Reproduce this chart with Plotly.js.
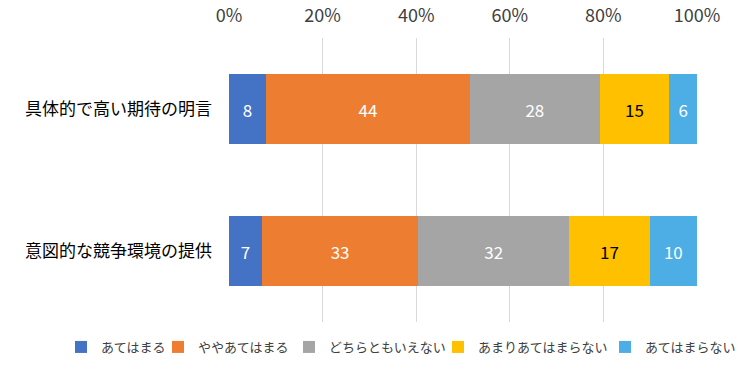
<!DOCTYPE html>
<html><head><meta charset="utf-8">
<script src="https://cdn.plot.ly/plotly-3.0.1.min.js"></script>
<style>body{margin:0}#c{width:750px;height:384px}</style>
</head><body><div id="c"></div>
<script>
const categories = ["具体的で高い期待の明言", "意図的な競争環境の提供"];
const seriesNames = ["あてはまる", "ややあてはまる", "どちらともいえない", "あまりあてはまらない", "あてはまらない"];
const s1 = [8, 7];
const s2 = [44, 33];
const s3 = [28, 32];
const s4 = [15, 17];
const s5 = [6, 10];
const tickVals = [0, 20, 40, 60, 80, 100];
const tickText = ["0%", "20%", "40%", "60%", "80%", "100%"];

const colors = ["#4472C4", "#ED7D31", "#A5A5A5", "#FFC000", "#4DAEE5"];
const textColors = ["#ffffff", "#ffffff", "#ffffff", "#000000", "#ffffff"];
const legendWidths = [52, 86, 104, 122, 91];
const series = [s1, s2, s3, s4, s5];
const font = "Noto Sans CJK JP, Noto Sans, sans-serif";

const traces = series.map((vals, i) => ({
  type: "bar", orientation: "h",
  name: seriesNames[i], y: categories, x: vals,
  text: vals.map(String), texttemplate: "%{text}",
  textposition: "inside", insidetextanchor: "middle",
  textfont: {color: textColors[i], size: 17, family: font},
  marker: {color: colors[i]},
  legendwidth: legendWidths[i],
  hoverinfo: "skip", constraintext: "none"
}));

Plotly.newPlot("c", traces, {
  width: 750, height: 384,
  barmode: "stack", barnorm: "percent", bargap: 0.505,
  margin: {l: 229, r: 53, t: 38, b: 62, autoexpand: false},
  paper_bgcolor: "#ffffff", plot_bgcolor: "#ffffff",
  font: {family: font, color: "#404040", size: 15},
  xaxis: {side: "top", range: [0, 100], tickvals: tickVals, ticktext: tickText,
          showgrid: true, gridcolor: "#d9d9d9", zeroline: false, ticks: "",
          ticklabelstandoff: 11, automargin: false,
          tickfont: {size: 18, color: "#404040"}, fixedrange: true},
  yaxis: {autorange: "reversed", ticks: "", showline: false,
          ticklabelstandoff: 16, automargin: false,
          tickfont: {size: 17, color: "#000000"}, fixedrange: true},
  legend: {orientation: "h", x: -0.359, xanchor: "left", xref: "paper",
           y: -0.088, yanchor: "middle", yref: "paper",
           font: {size: 13, color: "#404040"}, itemwidth: 30,
           traceorder: "normal"},
  showlegend: true
}, {displayModeBar: false, staticPlot: true});
</script></body></html>
